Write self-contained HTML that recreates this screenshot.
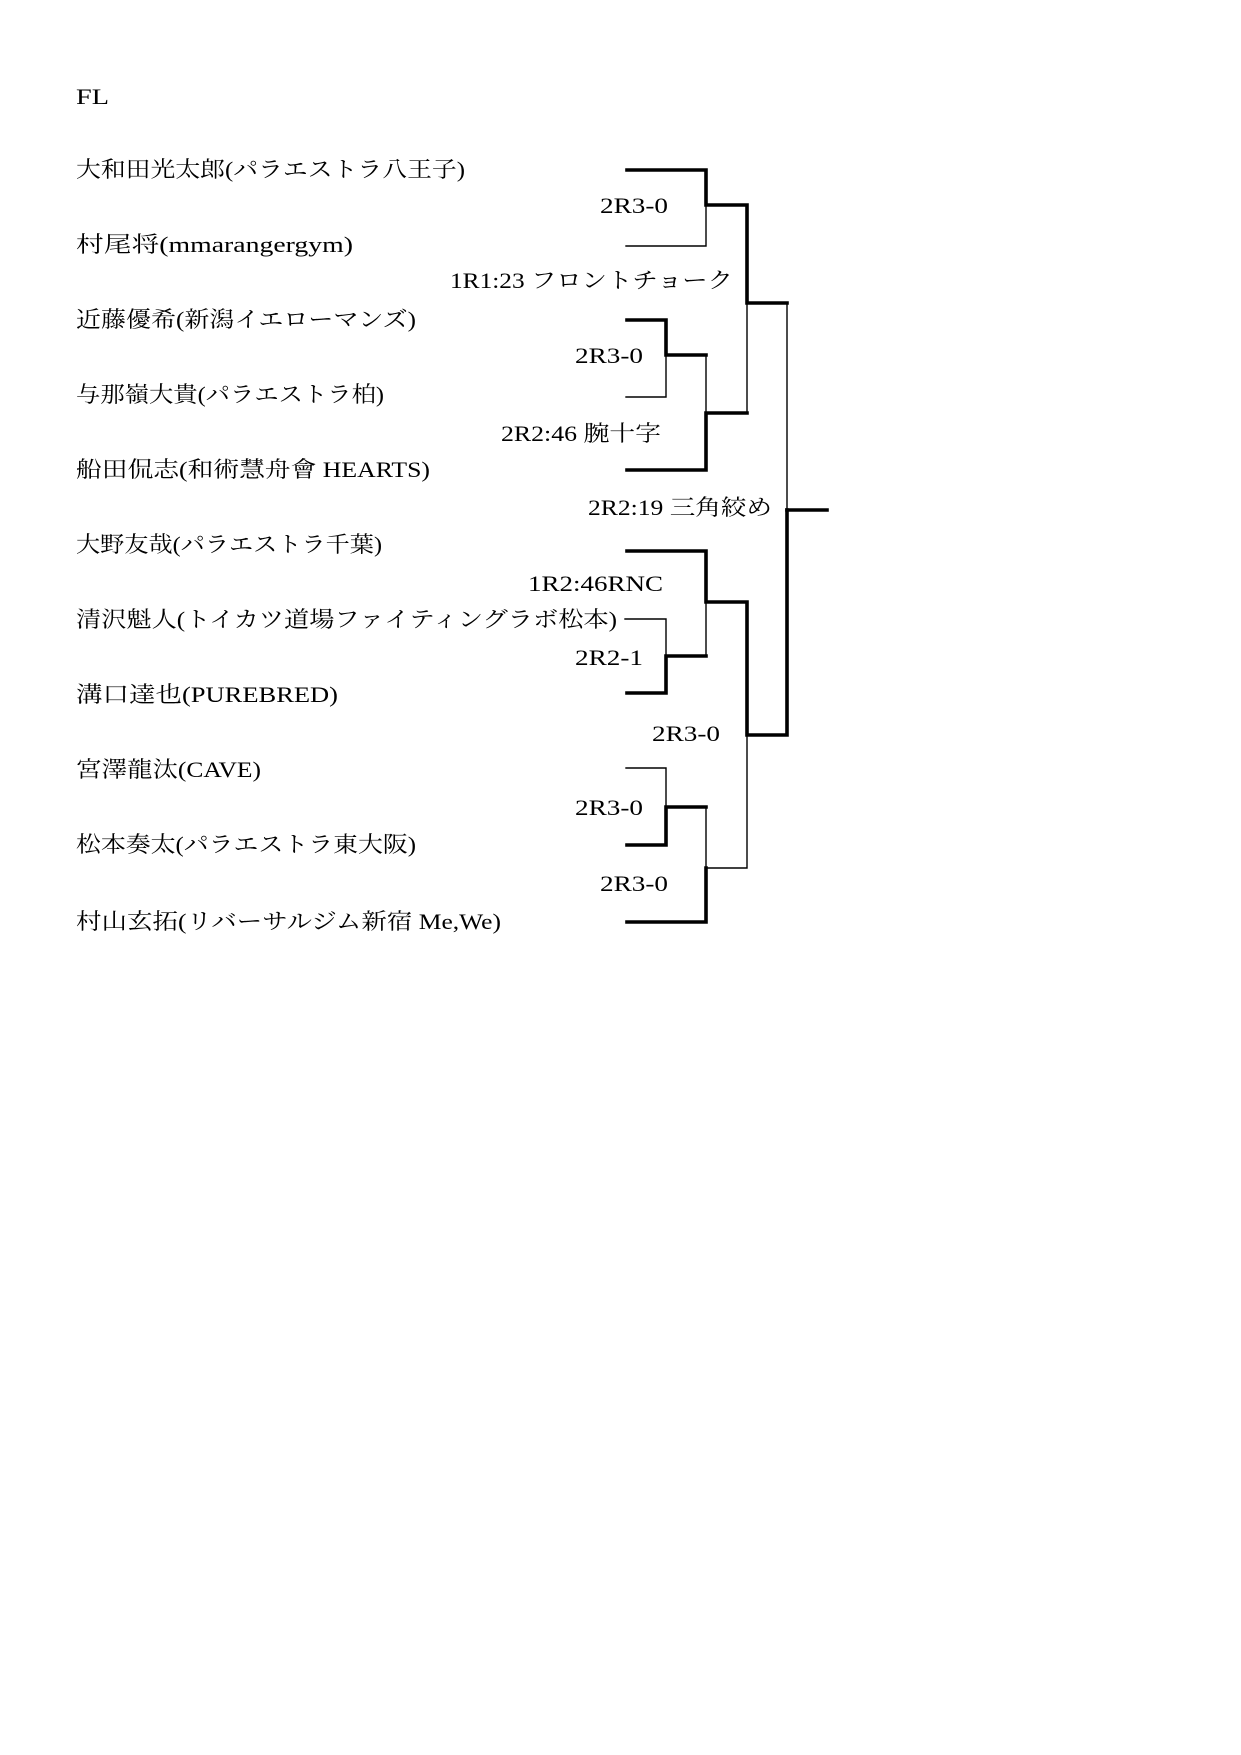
<!DOCTYPE html>
<html><head><meta charset="utf-8">
<style>
html,body{margin:0;padding:0;background:#fff;}
svg{display:block;}
text{font-family:"Liberation Serif","Noto Serif CJK JP","Noto Serif CJK SC",serif;font-size:22px;fill:#000;}
</style></head>
<body>
<svg width="1241" height="1755" viewBox="0 0 1241 1755" xmlns="http://www.w3.org/2000/svg">
<g lengthAdjust="spacingAndGlyphs">
<text x="76" y="104" textLength="33" lengthAdjust="spacingAndGlyphs">FL</text>
<text x="76" y="177" textLength="389" lengthAdjust="spacingAndGlyphs">大和田光太郎(パラエストラ八王子)</text>
<text x="76" y="252" textLength="277" lengthAdjust="spacingAndGlyphs">村尾将(mmarangergym)</text>
<text x="76" y="327" textLength="340" lengthAdjust="spacingAndGlyphs">近藤優希(新潟イエローマンズ)</text>
<text x="76" y="402" textLength="308" lengthAdjust="spacingAndGlyphs">与那嶺大貴(パラエストラ柏)</text>
<text x="76" y="477" textLength="354" lengthAdjust="spacingAndGlyphs">船田侃志(和術慧舟會 HEARTS)</text>
<text x="76" y="552" textLength="306" lengthAdjust="spacingAndGlyphs">大野友哉(パラエストラ千葉)</text>
<text x="76" y="627" textLength="541" lengthAdjust="spacingAndGlyphs">清沢魁人(トイカツ道場ファイティングラボ松本)</text>
<text x="76" y="702" textLength="262" lengthAdjust="spacingAndGlyphs">溝口達也(PUREBRED)</text>
<text x="76" y="777" textLength="185" lengthAdjust="spacingAndGlyphs">宮澤龍汰(CAVE)</text>
<text x="76" y="852" textLength="340" lengthAdjust="spacingAndGlyphs">松本奏太(パラエストラ東大阪)</text>
<text x="76" y="929" textLength="425" lengthAdjust="spacingAndGlyphs">村山玄拓(リバーサルジム新宿 Me,We)</text>

<text x="600" y="213" textLength="68" lengthAdjust="spacingAndGlyphs">2R3-0</text>
<text x="450" y="288" textLength="283" lengthAdjust="spacingAndGlyphs">1R1:23 フロントチョーク</text>
<text x="575" y="363" textLength="68" lengthAdjust="spacingAndGlyphs">2R3-0</text>
<text x="501" y="441" textLength="160" lengthAdjust="spacingAndGlyphs">2R2:46 腕十字</text>
<text x="588" y="515" textLength="184" lengthAdjust="spacingAndGlyphs">2R2:19 三角絞め</text>
<text x="528" y="591" textLength="135" lengthAdjust="spacingAndGlyphs">1R2:46RNC</text>
<text x="575" y="665" textLength="68" lengthAdjust="spacingAndGlyphs">2R2-1</text>
<text x="652" y="741" textLength="68" lengthAdjust="spacingAndGlyphs">2R3-0</text>
<text x="575" y="815" textLength="68" lengthAdjust="spacingAndGlyphs">2R3-0</text>
<text x="600" y="891" textLength="68" lengthAdjust="spacingAndGlyphs">2R3-0</text>
</g>

<g stroke="#000" fill="none" stroke-linecap="square">
<!-- thin lines -->
<g stroke-width="1.4">
<path d="M626 246 H706 V205"/>
<path d="M626 397 H666 V355"/>
<path d="M706 355 V413"/>
<path d="M747 303 V413"/>
<path d="M787 303 V510"/>
<path d="M625 619 H666 V656"/>
<path d="M706 602 V656"/>
<path d="M626 768 H666 V807"/>
<path d="M706 807 V868"/>
<path d="M706 868 H747 V735"/>
</g>
<!-- thick lines -->
<g stroke-width="3.6">
<path d="M627 170 H706 V205 H747 V303 H787"/>
<path d="M627 320 H666 V355 H706"/>
<path d="M627 470 H706 V413 H747"/>
<path d="M787 510 H827"/>
<path d="M627 551 H706 V602 H747 V735 H787 V510"/>
<path d="M627 693 H666 V656 H706"/>
<path d="M627 845 H666 V807 H706"/>
<path d="M627 922 H706 V868"/>
</g>
</g>
</svg>
</body></html>
